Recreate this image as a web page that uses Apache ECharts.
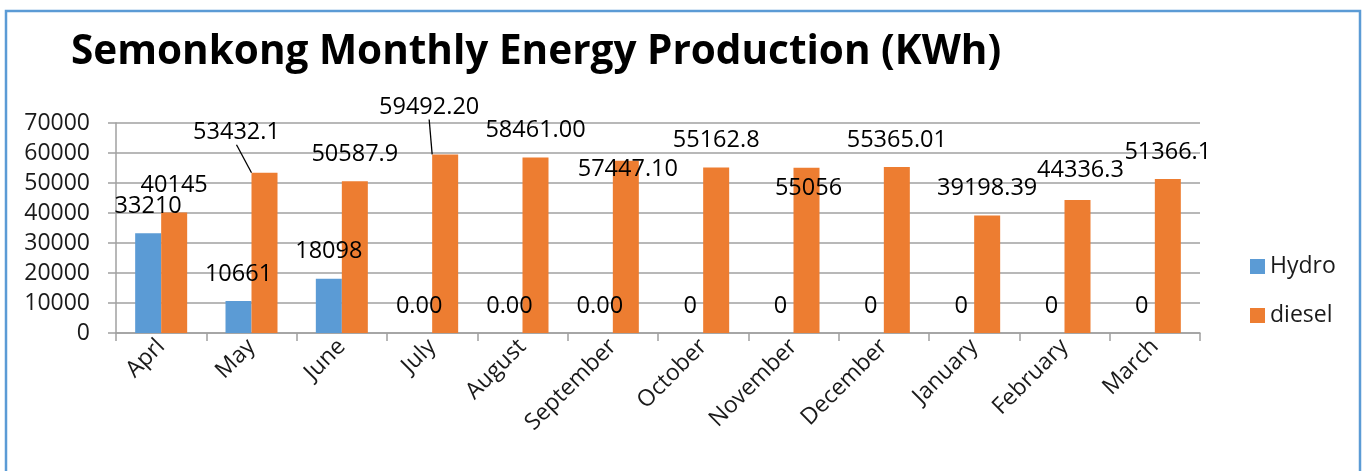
<!DOCTYPE html>
<html>
<head>
<meta charset="utf-8">
<script src="https://cdn.jsdelivr.net/npm/echarts@6/dist/echarts.min.js"></script>
<style>html,body{margin:0;padding:0;background:#fff;}#c{width:1370px;height:471px;}</style>
</head>
<body>
<div id="c"></div>
<script>
const months = ['Aprl','May','June','July','August','September','October','November','December','January','February','March'];
const hydro = [33210, 10661, 18098, 0, 0, 0, 0, 0, 0, 0, 0, 0];
const diesel = [40145, 53432.1, 50587.9, 59492.2, 58461, 57447.1, 55162.8, 55056, 55365.01, 39198.39, 44336.3, 51366.1];
const hydroLabels = ['33210','10661','18098','0.00','0.00','0.00','0','0','0','0','0','0'];
const dieselLabels = ['40145','53432.1','50587.9','59492.20','58461.00','57447.10','55162.8','55056','55365.01','39198.39','44336.3','51366.1'];
const yTicks = [0, 10000, 20000, 30000, 40000, 50000, 60000, 70000];

// manual label moves (dx, dy) for the diesel series, and which get a leader line
const dieselShift = {1: [-28, -13], 3: [-16, -20], 5: [2, 36], 7: [2, 47], 10: [3, -3]};
const dieselLeader = {1: true, 3: true};

const FONT = 'Open Sans';
const chart = echarts.init(document.getElementById('c'));
chart.setOption({
  animation: false,
  backgroundColor: '#fff',
  title: {
    text: 'Semonkong Monthly Energy Production (KWh)',
    left: 66, top: 27,
    textStyle: {fontFamily: FONT, fontWeight: 'bold', fontSize: 40.5, color: '#000'}
  },
  legend: {
    orient: 'vertical', left: 1245, top: 250,
    itemWidth: 15, itemHeight: 15, itemGap: 26,
    icon: 'rect',
    textStyle: {fontFamily: FONT, fontSize: 23, color: '#1a1a1a'},
    data: ['Hydro', 'diesel']
  },
  grid: {left: 116, right: 170, top: 123, bottom: 138},
  xAxis: {
    type: 'category', data: months,
    axisLine: {lineStyle: {color: '#a0a0a0', width: 1.5}},
    axisTick: {show: true, length: 8, lineStyle: {color: '#a0a0a0', width: 1.5}},
    axisLabel: {rotate: 45, fontFamily: FONT, fontSize: 23, color: '#1a1a1a', margin: 10, interval: 0}
  },
  yAxis: {
    type: 'value', min: yTicks[0], max: yTicks[yTicks.length - 1], interval: yTicks[1] - yTicks[0],
    axisLine: {show: true, lineStyle: {color: '#a0a0a0', width: 1.5}},
    axisTick: {show: true, length: 8, lineStyle: {color: '#a0a0a0', width: 1.5}},
    splitLine: {lineStyle: {color: '#a0a0a0', width: 1.5}},
    axisLabel: {fontFamily: FONT, fontSize: 23, color: '#1a1a1a', margin: 26, formatter: v => String(v)}
  },
  series: [
    {
      name: 'Hydro', type: 'bar', barWidth: 26, barGap: '0%',
      itemStyle: {color: '#5B9BD5'},
      data: hydro,
      label: {
        show: true, position: 'top', distance: 15,
        fontFamily: FONT, fontSize: 23.5, color: '#000',
        formatter: p => hydroLabels[p.dataIndex]
      }
    },
    {
      name: 'diesel', type: 'bar', barWidth: 26, barGap: '0%',
      itemStyle: {color: '#ED7D31'},
      data: diesel.map((v, i) => dieselLeader[i] ? {value: v, labelLine: {show: true}} : v),
      label: {
        show: true, position: 'top', distance: 15,
        fontFamily: FONT, fontSize: 23.5, color: '#000',
        formatter: p => dieselLabels[p.dataIndex]
      },
      labelLine: {show: false, lineStyle: {color: '#000', width: 1.3}},
      labelLayout: p => {
        const s = dieselShift[p.dataIndex];
        return s ? {dx: s[0], dy: s[1]} : {};
      }
    }
  ],
  graphic: [{
    type: 'rect', shape: {x: 6, y: 11, width: 1354, height: 480},
    style: {fill: 'none', stroke: '#5B9BD5', lineWidth: 2.5}, silent: true, z: 100
  }]
});
</script>
</body>
</html>
